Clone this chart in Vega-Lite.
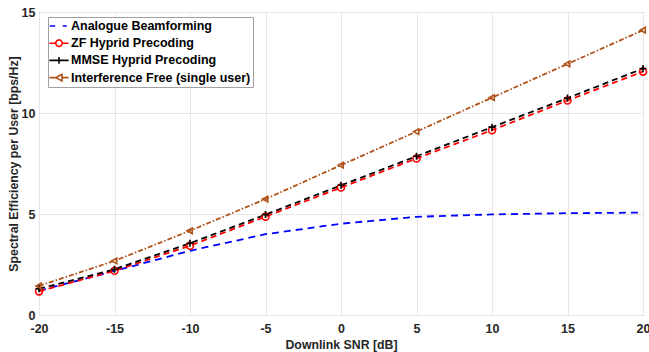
{
  "$schema": "https://vega.github.io/schema/vega-lite/v6.json",
  "width": 604,
  "height": 303,
  "autosize": "none",
  "padding": {"left": 39, "top": 12, "right": 6, "bottom": 37},
  "background": "white",
  "config": {
    "font": "Liberation Sans",
    "view": {"stroke": "#a0a0a0", "strokeWidth": 1},
    "axis": {
      "domain": false,
      "ticks": false,
      "grid": true,
      "gridColor": "#e6e6e6",
      "labelFont": "Liberation Sans",
      "labelFontWeight": "bold",
      "labelFontSize": 12.5,
      "labelColor": "#262626",
      "titleFont": "Liberation Sans",
      "titleFontWeight": "bold",
      "titleFontSize": 12.3,
      "titleColor": "#262626"
    }
  },
  "data": {
    "values": [
      {"snr": -20, "series": "Analogue Beamforming", "se": 1.2},
      {"snr": -15, "series": "Analogue Beamforming", "se": 2.18},
      {"snr": -10, "series": "Analogue Beamforming", "se": 3.18},
      {"snr": -5, "series": "Analogue Beamforming", "se": 4.0},
      {"snr": 0, "series": "Analogue Beamforming", "se": 4.52},
      {"snr": 5, "series": "Analogue Beamforming", "se": 4.86},
      {"snr": 10, "series": "Analogue Beamforming", "se": 4.98},
      {"snr": 15, "series": "Analogue Beamforming", "se": 5.04},
      {"snr": 20, "series": "Analogue Beamforming", "se": 5.07},
      {"snr": -20, "series": "ZF Hyprid Precoding", "se": 1.17},
      {"snr": -15, "series": "ZF Hyprid Precoding", "se": 2.19},
      {"snr": -10, "series": "ZF Hyprid Precoding", "se": 3.43},
      {"snr": -5, "series": "ZF Hyprid Precoding", "se": 4.87},
      {"snr": 0, "series": "ZF Hyprid Precoding", "se": 6.31},
      {"snr": 5, "series": "ZF Hyprid Precoding", "se": 7.75},
      {"snr": 10, "series": "ZF Hyprid Precoding", "se": 9.15},
      {"snr": 15, "series": "ZF Hyprid Precoding", "se": 10.62},
      {"snr": 20, "series": "ZF Hyprid Precoding", "se": 12.05},
      {"snr": -20, "series": "MMSE Hyprid Precoding", "se": 1.3},
      {"snr": -15, "series": "MMSE Hyprid Precoding", "se": 2.26},
      {"snr": -10, "series": "MMSE Hyprid Precoding", "se": 3.55},
      {"snr": -5, "series": "MMSE Hyprid Precoding", "se": 4.97},
      {"snr": 0, "series": "MMSE Hyprid Precoding", "se": 6.42},
      {"snr": 5, "series": "MMSE Hyprid Precoding", "se": 7.86},
      {"snr": 10, "series": "MMSE Hyprid Precoding", "se": 9.3},
      {"snr": 15, "series": "MMSE Hyprid Precoding", "se": 10.74},
      {"snr": 20, "series": "MMSE Hyprid Precoding", "se": 12.2},
      {"snr": -20, "series": "Interference Free (single user)", "se": 1.44},
      {"snr": -15, "series": "Interference Free (single user)", "se": 2.68},
      {"snr": -10, "series": "Interference Free (single user)", "se": 4.17},
      {"snr": -5, "series": "Interference Free (single user)", "se": 5.74},
      {"snr": 0, "series": "Interference Free (single user)", "se": 7.42},
      {"snr": 5, "series": "Interference Free (single user)", "se": 9.08},
      {"snr": 10, "series": "Interference Free (single user)", "se": 10.76},
      {"snr": 15, "series": "Interference Free (single user)", "se": 12.43},
      {"snr": 20, "series": "Interference Free (single user)", "se": 14.1}
    ]
  },
  "encoding": {
    "x": {
      "field": "snr", "type": "quantitative",
      "scale": {"domain": [-20, 20], "nice": false},
      "axis": {"values": [-20, -15, -10, -5, 0, 5, 10, 15, 20], "title": "Downlink SNR [dB]", "labelPadding": 7, "titlePadding": 4, "labelFlush": false,
               "labelExpr": "datum.value < 0 ? '-' + abs(datum.value) : '' + datum.value"}
    },
    "y": {
      "field": "se", "type": "quantitative",
      "scale": {"domain": [0, 15], "nice": false},
      "axis": {"values": [0, 5, 10, 15], "title": "Spectral Efficiency per User [bps/Hz]", "labelPadding": 4, "titlePadding": 1, "labelFlush": false}
    },
    "color": {
      "field": "series", "type": "nominal",
      "scale": {
        "domain": ["Analogue Beamforming", "ZF Hyprid Precoding", "MMSE Hyprid Precoding", "Interference Free (single user)"],
        "range": ["#0000ff", "#ff0000", "#000000", "#b0521a"]
      },
      "legend": {
        "orient": "none",
        "legendX": 9,
        "legendY": 5,
        "title": null,
        "strokeColor": "#a0a0a0",
        "fillColor": "white",
        "padding": 2,
        "rowPadding": 3.2,
        "labelFont": "Liberation Sans",
        "labelFontWeight": "bold",
        "labelFontSize": 12.5,
        "labelColor": "#000000",
        "labelLimit": 400,
        "labelOffset": 5,
        "symbolOffset": 2,
        "symbolSize": 144,
        "symbolStrokeWidth": 1.6,
        "encoding": {
          "symbols": {
            "strokeDash": {"value": [1, 0]},
            "fill": {"value": "transparent"},
            "shape": {"value": {"expr": "datum.value == 'Analogue Beamforming' ? 'M-1.53,0H-0.63M0.63,0H1.3' : datum.value == 'ZF Hyprid Precoding' ? 'M-1.6,0H-0.55M0.55,0H1.6M0.55,0L0.476,0.275L0.275,0.476L0,0.55L-0.275,0.476L-0.476,0.275L-0.55,0L-0.476,-0.275L-0.275,-0.476L0,-0.55L0.275,-0.476L0.476,-0.275Z' : datum.value == 'MMSE Hyprid Precoding' ? 'M-1.6,0H1.6M0,-0.55V0.55' : 'M-1.6,0H-0.55M0.5,0H1.6M-0.55,0L0.5,-0.55L0.5,0.55Z'"}}
          }
        }
      }
    }
  },
  "layer": [
    {
      "transform": [{"filter": "datum.series == 'Analogue Beamforming'"}],
      "mark": {"type": "line", "strokeWidth": 1.8, "strokeDash": [7, 5]}
    },
    {
      "transform": [{"filter": "datum.series == 'ZF Hyprid Precoding'"}],
      "mark": {"type": "line", "strokeWidth": 1.8, "strokeDash": [6, 4]}
    },
    {
      "transform": [{"filter": "datum.series == 'MMSE Hyprid Precoding'"}],
      "mark": {"type": "line", "strokeWidth": 1.8, "strokeDash": [6, 4]}
    },
    {
      "transform": [{"filter": "datum.series == 'Interference Free (single user)'"}],
      "mark": {"type": "line", "strokeWidth": 1.8, "strokeDash": [5, 2, 1.5, 2]}
    },
    {
      "transform": [{"filter": "datum.series != 'Analogue Beamforming'"}],
      "mark": {"type": "point", "filled": false, "strokeWidth": 1.6, "size": 49, "opacity": 1},
      "encoding": {
        "shape": {
          "field": "series", "type": "nominal",
          "scale": {
            "domain": ["ZF Hyprid Precoding", "MMSE Hyprid Precoding", "Interference Free (single user)"],
            "range": ["circle", "M-1,0H1M0,-1V1", "M-0.85,0L0.65,-0.8L0.65,0.8Z"]
          },
          "legend": null
        }
      }
    }
  ]
}
